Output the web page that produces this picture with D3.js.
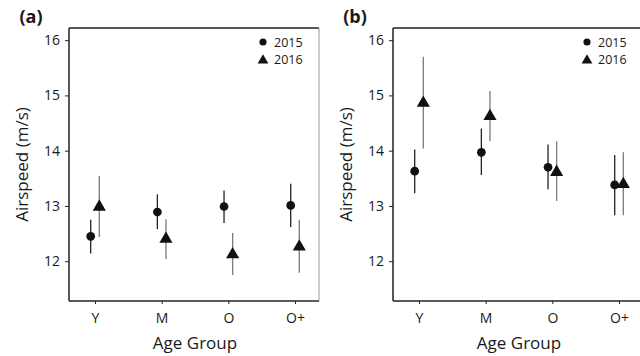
<!DOCTYPE html>
<html><head><meta charset="utf-8">
<script src="https://cdn.jsdelivr.net/npm/d3@7"></script>
<style>body{margin:0;background:#fff}svg{display:block;font-family:"Open Sans",sans-serif}</style>
</head><body><svg id="c" width="640" height="356"></svg>
<script>
const groups = ["Y", "M", "O", "O+"];
const years = ["2015", "2016"];
const yTicks = [12, 13, 14, 15, 16];
// Panel (a)
const a2015 = [12.45, 12.89, 12.99, 13.01];
const a2015Lo = [12.14, 12.58, 12.69, 12.62];
const a2015Hi = [12.75, 13.21, 13.28, 13.40];
const a2016 = [13.00, 12.42, 12.14, 12.28];
const a2016Lo = [12.44, 12.04, 11.75, 11.79];
const a2016Hi = [13.54, 12.76, 12.51, 12.75];
// Panel (b)
const b2015 = [13.63, 13.97, 13.70, 13.38];
const b2015Lo = [13.23, 13.56, 13.30, 12.83];
const b2015Hi = [14.02, 14.40, 14.11, 13.92];
const b2016 = [14.88, 14.64, 13.63, 13.41];
const b2016Lo = [14.04, 14.17, 13.09, 12.83];
const b2016Hi = [15.70, 15.08, 14.17, 13.97];

const svg = d3.select("#c");
const yDomain = [11.28, 16.22];

function panel(ox, label, s1, s1lo, s1hi, s2, s2lo, s2hi, rightBorder) {
  const left = ox + 69, right = ox + (rightBorder ? 319 : 640), top = 28, bottom = 301;
  const g = svg.append("g");
  const y = d3.scaleLinear().domain(yDomain).range([bottom, top]);
  const x = d3.scalePoint().domain(groups).range([left + 26, left + 26 + 200]);
  const off = d3.scalePoint().domain(years).range([-4.3, 4.3]);

  // frame
  g.append("line").attr("x1", left).attr("x2", right).attr("y1", top).attr("y2", top).attr("stroke", "#222").attr("stroke-width", 1.5);
  g.append("line").attr("x1", left).attr("x2", right).attr("y1", bottom).attr("y2", bottom).attr("stroke", "#222").attr("stroke-width", 1.5);
  g.append("line").attr("x1", left).attr("x2", left).attr("y1", top).attr("y2", bottom).attr("stroke", "#222").attr("stroke-width", 1.5);
  if (rightBorder) g.append("line").attr("x1", right).attr("x2", right).attr("y1", top).attr("y2", bottom).attr("stroke", "#999").attr("stroke-width", 1);

  const ya = g.append("g").attr("transform", `translate(${left},0)`)
    .call(d3.axisLeft(y).tickValues(yTicks).tickSize(4).tickPadding(5).tickFormat(d3.format("d")));
  ya.select(".domain").remove();
  ya.selectAll("line").attr("stroke", "#222");
  ya.selectAll("text").attr("font-size", 14).attr("fill", "#1a1a1a").attr("font-family", "Open Sans");

  const xa = g.append("g").attr("transform", `translate(0,${bottom})`)
    .call(d3.axisBottom(x).tickSize(3).tickPadding(9));
  xa.select(".domain").remove();
  xa.selectAll("line").attr("stroke", "#222");
  xa.selectAll("text").attr("font-size", 14).attr("fill", "#1a1a1a").attr("font-family", "Open Sans");

  g.append("text").attr("x", ox + 31).attr("y", 23).attr("text-anchor", "middle")
    .attr("font-size", 18).attr("font-weight", "bold").attr("fill", "#1a1a1a").text(label);
  g.append("text").attr("transform", `translate(${ox + 28},${(top + bottom) / 2}) rotate(-90)`)
    .attr("text-anchor", "middle").attr("font-size", 17).attr("fill", "#1a1a1a").text("Airspeed (m/s)");
  g.append("text").attr("x", (x("M") + x("O")) / 2).attr("y", 349).attr("text-anchor", "middle")
    .attr("font-size", 17).attr("fill", "#1a1a1a").text("Age Group");

  const series = [
    {yr: "2015", v: s1, lo: s1lo, hi: s1hi, col: "#222", shape: d3.symbolCircle, size: 60},
    {yr: "2016", v: s2, lo: s2lo, hi: s2hi, col: "#7a7a7a", shape: d3.symbolTriangle, size: 75}
  ];
  series.forEach(s => {
    groups.forEach((grp, i) => {
      const cx = x(grp) + off(s.yr);
      g.append("line").attr("x1", cx).attr("x2", cx).attr("y1", y(s.lo[i])).attr("y2", y(s.hi[i]))
        .attr("stroke", s.col).attr("stroke-width", 1.3);
      g.append("path").attr("d", d3.symbol().type(s.shape).size(s.size)())
        .attr("transform", `translate(${cx},${y(s.v[i]) + (s.shape === d3.symbolTriangle ? 1 : 0)})`).attr("fill", "#111");
    });
  });

  // legend
  const lx = ox + 263;
  series.forEach((s, k) => {
    const ly = 42 + k * 17.5;
    g.append("path").attr("d", d3.symbol().type(s.shape).size(s.shape === d3.symbolCircle ? 40 : 50)())
      .attr("transform", `translate(${lx},${ly + (k ? 1 : 0)})`).attr("fill", "#111");
    g.append("text").attr("x", lx + 11).attr("y", ly + 4.5).attr("font-size", 12.5).attr("fill", "#1a1a1a").text(s.yr);
  });
}

panel(0, "(a)", a2015, a2015Lo, a2015Hi, a2016, a2016Lo, a2016Hi, true);
panel(324, "(b)", b2015, b2015Lo, b2015Hi, b2016, b2016Lo, b2016Hi, false);
</script></body></html>
